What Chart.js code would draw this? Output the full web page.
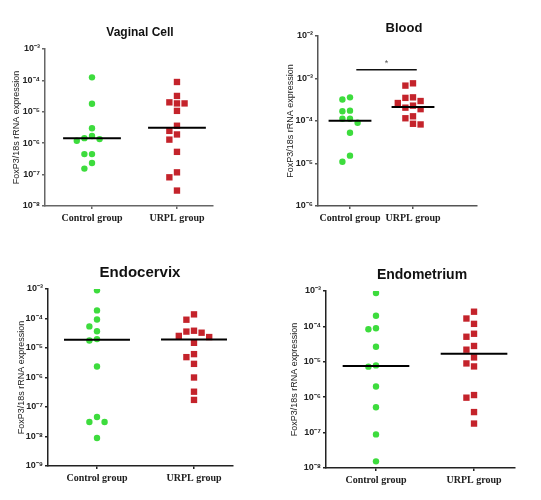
<!DOCTYPE html>
<html>
<head>
<meta charset="utf-8">
<script src="https://cdn.jsdelivr.net/npm/chart.js"></script>
<style>
    html, body { margin: 0; padding: 0; background: #fff; width: 541px; height: 500px; overflow: hidden; position: relative; }
    .panel { position: absolute; }
</style>
</head>
<body>
<div class="panel" style="left:0;top:0;width:280px;height:240px"><canvas id="vaginal"></canvas></div>
<div class="panel" style="left:270px;top:0;width:268px;height:240px"><canvas id="blood"></canvas></div>
<div class="panel" style="left:0;top:250px;width:280px;height:250px"><canvas id="endocervix"></canvas></div>
<div class="panel" style="left:285px;top:250px;width:274px;height:250px"><canvas id="endometrium"></canvas></div>
<script>
    const groups = ['Control group', 'URPL group'];
    const yTitle = 'FoxP3/18s rRNA expression';

    // values (relative expression)
    const vaginalControl = [1.25e-4, 1.8e-5, 3.0e-6, 1.7e-6, 1.45e-6, 1.35e-6, 1.2e-6, 4.5e-7, 4.5e-7, 2.35e-7, 1.55e-7];
    const vaginalURPL = [8.9e-5, 3.2e-5, 2.0e-5, 1.85e-5, 1.85e-5, 1.07e-5, 3.6e-6, 2.47e-6, 1.9e-6, 1.3e-6, 5.3e-7, 1.18e-7, 8.2e-8, 3.1e-8];
    const vaginalMedians = [1.45e-6, 3.1e-6];

    const bloodControl = [3.6e-4, 3.2e-4, 1.75e-4, 1.7e-4, 1.13e-4, 1.13e-4, 9.1e-5, 5.3e-5, 1.53e-5, 1.1e-5];
    const bloodURPL = [7.7e-4, 6.8e-4, 3.6e-4, 3.5e-4, 2.95e-4, 2.65e-4, 2.3e-4, 2.06e-4, 1.9e-4, 1.29e-4, 1.16e-4, 8.6e-5, 8.3e-5];
    const bloodMedians = [1.02e-4, 2.14e-4];
    const bloodStar = '*';
    const bloodStarLevel = 1.6e-3;
    const bloodStarSpan = [1.1, 2.06];

    const endocervixControl = [9e-4, 1.88e-4, 9.3e-5, 5.4e-5, 3.7e-5, 2.0e-5, 1.8e-5, 2.35e-6, 4.6e-8, 3.1e-8, 3.1e-8, 8.9e-9];
    const endocervixURPL = [1.38e-4, 9.1e-5, 3.85e-5, 3.6e-5, 3.3e-5, 2.57e-5, 2.35e-5, 1.5e-5, 6.2e-6, 4.9e-6, 2.9e-6, 1.0e-6, 3.3e-7, 1.74e-7];
    const endocervixMedians = [1.9e-5, 1.95e-5];

    const endometriumControl = [8.8e-4, 2.0e-4, 8.9e-5, 8.3e-5, 2.65e-5, 7.9e-6, 7.3e-6, 2.0e-6, 5.2e-7, 8.9e-8, 1.54e-8];
    const endometriumURPL = [2.6e-4, 1.67e-4, 1.18e-4, 6.2e-5, 5.1e-5, 2.8e-5, 2.2e-5, 1.33e-5, 9.0e-6, 7.4e-6, 1.15e-6, 9.7e-7, 3.8e-7, 1.8e-7];
    const endometriumMedians = [7.6e-6, 1.7e-5];

    const SUP = { '-': '\u207B', '0': '\u2070', '1': '\u00B9', '2': '\u00B2', '3': '\u00B3', '4': '\u2074', '5': '\u2075', '6': '\u2076', '7': '\u2077', '8': '\u2078', '9': '\u2079' };
    function powerLabel(v) {
        const e = String(Math.round(Math.log10(v)));
        return '10' + e.split('').map(c => SUP[c]).join('');
    }

    // draws the panel heading and the optional significance star
    const panelText = {
        id: 'panelText',
        afterDraw(chart, args, opts) {
            const ctx = chart.ctx;
            ctx.save();
            ctx.fillStyle = '#111';
            ctx.textAlign = 'center';
            ctx.textBaseline = 'middle';
            ctx.font = 'bold ' + opts.size + 'px "Liberation Sans", Arial, sans-serif';
            ctx.fillText(opts.text, chart.width / 2, opts.y);
            if (opts.star) {
                const xs = chart.scales.x, ys = chart.scales.y;
                const mx = (xs.getPixelForValue(opts.star.span[0]) + xs.getPixelForValue(opts.star.span[1])) / 2;
                ctx.fillStyle = '#555';
                ctx.font = '9px "Liberation Sans", Arial, sans-serif';
                ctx.fillText(opts.star.text, mx, ys.getPixelForValue(opts.star.level) - 6);
            }
            ctx.restore();
        }
    };

    // spread points sideways when they would overlap (dot-plot style)
    function swarm(chart) {
        const xs = chart.scales.x, ys = chart.scales.y;
        const unit = xs.getPixelForValue(2) - xs.getPixelForValue(1);
        const step = 7.6 / unit;
        chart.data.datasets.forEach(ds => {
            if (!ds.swarm) return;
            const placed = [];
            const order = ds.data.map((p, i) => i).sort((a, b) => ds.data[b].y - ds.data[a].y);
            order.forEach(i => {
                const p = ds.data[i];
                const py = ys.getPixelForValue(p.y);
                const slots = [0, -1, 1, -2, 2, -3, 3];
                const k = slots.find(s => !placed.some(q => q.s === s && Math.abs(q.py - py) < 7.2));
                placed.push({ s: k, py: py });
                p.x = ds.center + k * step;
            });
        });
        chart.update('none');
    }

    function makePanel(id, cfg) {
        const axisColor = cfg.axisColor;
        const datasets = [];
        cfg.medians.forEach((m, i) => {
            datasets.push({
                data: [{ x: i + 1 - 0.34, y: m }, { x: i + 1 + 0.34, y: m }],
                showLine: true, borderColor: '#000', borderWidth: 2, pointRadius: 0
            });
        });
        if (cfg.star) {
            datasets.push({
                data: [{ x: cfg.star.span[0], y: cfg.star.level }, { x: cfg.star.span[1], y: cfg.star.level }],
                showLine: true, borderColor: '#111', borderWidth: 1.5, pointRadius: 0
            });
        }
        datasets.push({
            data: cfg.control.map(v => ({ x: 1, y: v })), swarm: true, center: 1,
            pointStyle: 'circle', pointRadius: 3.2, backgroundColor: '#3ddc3d', borderWidth: 0
        });
        datasets.push({
            data: cfg.urpl.map(v => ({ x: 2, y: v })), swarm: true, center: 2,
            pointStyle: 'rect', pointRadius: 4.5, backgroundColor: '#c4232b', borderWidth: 0
        });

        const decades = [];
        for (let e = Math.round(Math.log10(cfg.yMin)); e <= Math.round(Math.log10(cfg.yMax)); e++) decades.push(Math.pow(10, e));

        const chart = new Chart(document.getElementById(id), {
            type: 'scatter',
            data: { datasets: datasets },
            plugins: [panelText],
            options: {
                responsive: true,
                maintainAspectRatio: false,
                animation: false,
                layout: { padding: { top: cfg.top, right: cfg.right, left: 0, bottom: 0 } },
                plugins: {
                    legend: { display: false },
                    tooltip: { enabled: false },
                    panelText: { text: cfg.title, size: cfg.titleSize, y: cfg.titleY, star: cfg.star }
                },
                scales: {
                    x: {
                        type: 'linear', min: cfg.xMin, max: cfg.xMax,
                        afterBuildTicks: s => { s.ticks = [{ value: 1 }, { value: 2 }]; },
                        afterFit: s => { s.height = cfg.xH; },
                        ticks: {
                            callback: v => groups[Math.round(v) - 1],
                            font: { family: '"Liberation Serif", "Times New Roman", serif', weight: 'bold', size: 10 },
                            color: '#222', padding: 3, maxRotation: 0, autoSkip: false
                        },
                        grid: { drawOnChartArea: false, tickLength: 3, color: axisColor, lineWidth: 1.5 },
                        border: { color: axisColor, width: 1.5 }
                    },
                    y: {
                        type: 'logarithmic', min: cfg.yMin, max: cfg.yMax,
                        afterBuildTicks: s => { s.ticks = decades.map(v => ({ value: v })); },
                        afterFit: s => { s.width = cfg.yW; },
                        ticks: {
                            callback: v => powerLabel(v),
                            font: { family: '"Liberation Sans", Arial, sans-serif', weight: 'bold', size: 9 },
                            color: '#222', padding: 2, autoSkip: false
                        },
                        grid: { drawOnChartArea: false, tickLength: 3, color: axisColor, lineWidth: 1.5 },
                        border: { color: axisColor, width: 1.5 },
                        title: {
                            display: true, text: yTitle, color: '#222',
                            font: { family: '"Liberation Sans", Arial, sans-serif', size: 9 },
                            padding: { top: cfg.yTitlePad, bottom: 0 }
                        }
                    }
                }
            }
        });
        swarm(chart);
        return chart;
    }

    makePanel('vaginal', {
        title: 'Vaginal Cell', titleSize: 12, titleY: 33,
        control: vaginalControl, urpl: vaginalURPL, medians: vaginalMedians,
        yMin: 1e-8, yMax: 1e-3, xMin: 0.447, xMax: 2.424,
        top: 49, right: 67, yW: 45, xH: 34, yTitlePad: 11.6, axisColor: '#666'
    });
    makePanel('blood', {
        title: 'Blood', titleSize: 13, titleY: 28,
        control: bloodControl, urpl: bloodURPL, medians: bloodMedians,
        star: { text: bloodStar, level: bloodStarLevel, span: bloodStarSpan },
        yMin: 1e-6, yMax: 1e-2, xMin: 0.492, xMax: 3.016,
        top: 36, right: 61, yW: 48, xH: 34, yTitlePad: 15.6, axisColor: '#555'
    });
    makePanel('endocervix', {
        title: 'Endocervix', titleSize: 15, titleY: 23,
        control: endocervixControl, urpl: endocervixURPL, medians: endocervixMedians,
        yMin: 1e-9, yMax: 1e-3, xMin: 0.495, xMax: 2.402,
        top: 39, right: 47, yW: 48, xH: 34, yTitlePad: 16, axisColor: '#222'
    });
    makePanel('endometrium', {
        title: 'Endometrium', titleSize: 14, titleY: 25,
        control: endometriumControl, urpl: endometriumURPL, medians: endometriumMedians,
        yMin: 1e-8, yMax: 1e-3, xMin: 0.49, xMax: 2.418,
        top: 41, right: 44, yW: 41, xH: 32, yTitlePad: 4.6, axisColor: '#222'
    });
</script>
</body>
</html>
